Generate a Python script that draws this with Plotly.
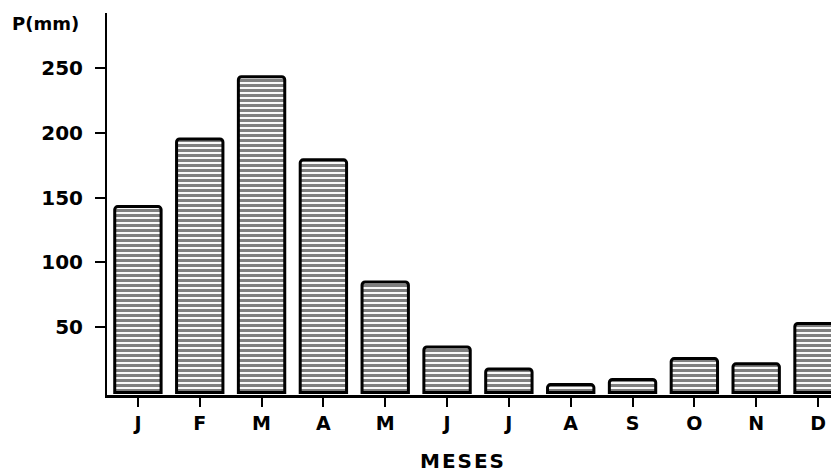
import plotly.graph_objects as go

# Monthly precipitation (mm)
meses = ["J", "F", "M", "A", "M", "J", "J", "A", "S", "O", "N", "D"]
precip_mm = [143, 195, 243, 179, 85, 35, 18, 6, 10, 26, 22, 53]
y_ticks = [50, 100, 150, 200, 250]

x_pos = list(range(len(meses)))
font_family = "DejaVu Sans"

fig = go.Figure()
fig.add_trace(go.Bar(
    x=x_pos,
    y=precip_mm,
    width=0.75,
    marker=dict(
        color="white",
        line=dict(color="black", width=3),
        pattern=dict(shape="-", size=5, solidity=0.62,
                     fgcolor="black", bgcolor="white", fillmode="overlay"),
        cornerradius=3,
    ),
    hoverinfo="x+y",
))

fig.update_layout(
    width=831,
    height=475,
    margin=dict(l=107, r=0, t=13, b=80),
    paper_bgcolor="white",
    plot_bgcolor="white",
    showlegend=False,
    font=dict(family=font_family, color="black"),
    xaxis=dict(
        range=[-0.5, 11.21],
        tickmode="array",
        tickvals=x_pos,
        ticktext=meses,
        ticks="outside",
        ticklen=9,
        tickwidth=1.5,
        tickcolor="black",
        showline=True,
        linecolor="black",
        linewidth=2.5,
        showgrid=False,
        zeroline=False,
        tickfont=dict(size=19, family=font_family, weight="bold"),
    ),
    yaxis=dict(
        range=[-2, 292],
        tickmode="array",
        tickvals=y_ticks,
        ticktext=[str(v) for v in y_ticks],
        ticks="outside",
        ticklen=10,
        tickwidth=2,
        tickcolor="black",
        ticklabelstandoff=8,
        showline=True,
        linecolor="black",
        linewidth=2,
        showgrid=False,
        zeroline=False,
        tickfont=dict(size=20, family=font_family, weight="bold"),
    ),
    annotations=[
        dict(text="<b>P(mm)</b>", xref="paper", yref="paper",
             x=-97 / 724, y=1 + 2 / 382, xanchor="left", yanchor="top",
             showarrow=False, font=dict(size=18, family=font_family)),
        dict(text="<b>M\u200aE\u200aS\u200aE\u200aS</b>", xref="paper", yref="paper",
             x=(462 - 107) / 724, y=-(461 - 395) / 382,
             xanchor="center", yanchor="middle",
             showarrow=False, font=dict(size=20, family=font_family)),
    ],
)

fig.write_html("out.html")
